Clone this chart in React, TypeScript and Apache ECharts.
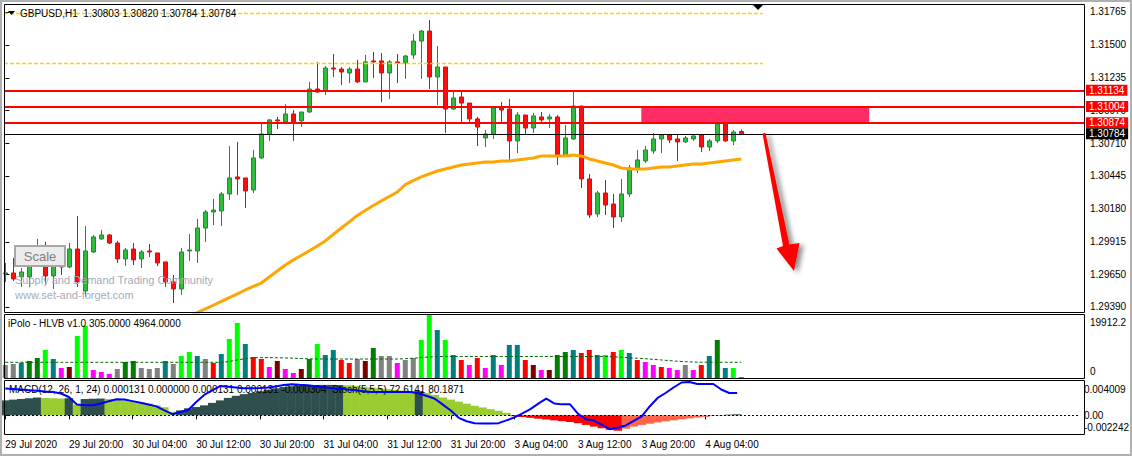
import React, { useEffect, useRef } from "react";
import * as echarts from "echarts";

const FONT = "'Liberation Sans', Arial, sans-serif";

// ---- time axis (bar index -> label) ----
const timeLabels = [
  "29 Jul 2020", "29 Jul 20:00", "30 Jul 04:00", "30 Jul 12:00", "30 Jul 20:00", "31 Jul 04:00",
  "31 Jul 12:00", "31 Jul 20:00", "3 Aug 04:00", "3 Aug 12:00", "3 Aug 20:00", "4 Aug 04:00",
];
const timeLabelBars = [0, 8, 16, 24, 32, 40, 48, 56, 64, 72, 80, 88];

// ---- GBPUSD H1 candles ----
const opens = [
  1.29656, 1.29664, 1.29632, 1.29632, 1.29793, 1.29753, 1.29640, 1.29728, 1.29712, 1.29857,
  1.29519, 1.29833, 1.29938, 1.29970, 1.29905, 1.29777, 1.29857, 1.29777, 1.29841, 1.29825,
  1.29753, 1.29592, 1.29535, 1.29841, 1.29841, 1.30026, 1.30155, 1.30163, 1.30300, 1.30437,
  1.30429, 1.30332, 1.30590, 1.30783, 1.30896, 1.30880, 1.30944, 1.30888, 1.30960, 1.31145,
  1.31129, 1.31314, 1.31306, 1.31274, 1.31306, 1.31202, 1.31371, 1.31371, 1.31274, 1.31363,
  1.31355, 1.31419, 1.31531, 1.31612, 1.31242, 1.31322, 1.30984, 1.31081, 1.31032, 1.30904,
  1.30751, 1.30783, 1.30992, 1.30984, 1.30727, 1.30936, 1.30831, 1.30920, 1.30904, 1.30920,
  1.30606, 1.30743, 1.31008, 1.30421, 1.30139, 1.30308, 1.30219, 1.30115, 1.30300, 1.30509,
  1.30566, 1.30646, 1.30743, 1.30775, 1.30743, 1.30719, 1.30743, 1.30775, 1.30678, 1.30727,
  1.30863, 1.30727, 1.30803,
];
const highs = [
  1.29744, 1.29785, 1.29704, 1.29785, 1.29938, 1.29914, 1.29793, 1.29809, 1.29905, 1.30123,
  1.30042, 1.29970, 1.30010, 1.29978, 1.29922, 1.29865, 1.29905, 1.29849, 1.29897, 1.29825,
  1.29753, 1.29648, 1.29865, 1.29978, 1.30099, 1.30171, 1.30260, 1.30316, 1.30686, 1.30719,
  1.30429, 1.30654, 1.30863, 1.30904, 1.30920, 1.31024, 1.30976, 1.30960, 1.31202, 1.31363,
  1.31330, 1.31427, 1.31322, 1.31322, 1.31379, 1.31419, 1.31443, 1.31435, 1.31379, 1.31427,
  1.31419, 1.31588, 1.31620, 1.31701, 1.31491, 1.31322, 1.31137, 1.31137, 1.31032, 1.30920,
  1.30815, 1.31000, 1.31040, 1.31065, 1.30960, 1.30936, 1.30952, 1.30960, 1.30944, 1.30936,
  1.30855, 1.31121, 1.31008, 1.30461, 1.30324, 1.30413, 1.30300, 1.30421, 1.30533, 1.30654,
  1.30686, 1.30791, 1.30783, 1.30783, 1.30783, 1.30767, 1.30783, 1.30783, 1.30743, 1.30872,
  1.30880, 1.30815, 1.30820,
];
const lows = [
  1.29592, 1.29600, 1.29551, 1.29551, 1.29753, 1.29567, 1.29535, 1.29648, 1.29704, 1.29551,
  1.29471, 1.29825, 1.29930, 1.29897, 1.29744, 1.29720, 1.29728, 1.29704, 1.29793, 1.29720,
  1.29551, 1.29422, 1.29487, 1.29761, 1.29744, 1.29914, 1.30050, 1.30042, 1.30252, 1.30292,
  1.30187, 1.30308, 1.30582, 1.30727, 1.30823, 1.30872, 1.30727, 1.30839, 1.30952, 1.31113,
  1.31097, 1.31242, 1.31177, 1.31193, 1.31193, 1.31202, 1.31234, 1.31040, 1.31065, 1.31193,
  1.31226, 1.31387, 1.31226, 1.31145, 1.31016, 1.30791, 1.30976, 1.30880, 1.30863, 1.30686,
  1.30678, 1.30743, 1.30872, 1.30574, 1.30630, 1.30775, 1.30791, 1.30880, 1.30831, 1.30533,
  1.30598, 1.30735, 1.30348, 1.30107, 1.30115, 1.30131, 1.30026, 1.30074, 1.30276, 1.30469,
  1.30549, 1.30622, 1.30630, 1.30710, 1.30566, 1.30710, 1.30727, 1.30638, 1.30646, 1.30710,
  1.30719, 1.30694, 1.30784,
];
const closes = [
  1.29664, 1.29616, 1.29672, 1.29728, 1.29881, 1.29640, 1.29728, 1.29712, 1.29857, 1.29592,
  1.29841, 1.29954, 1.29970, 1.29905, 1.29777, 1.29849, 1.29769, 1.29833, 1.29833, 1.29744,
  1.29592, 1.29535, 1.29833, 1.29849, 1.30026, 1.30155, 1.30171, 1.30300, 1.30429, 1.30421,
  1.30324, 1.30590, 1.30783, 1.30896, 1.30888, 1.30944, 1.30880, 1.30960, 1.31145, 1.31121,
  1.31314, 1.31306, 1.31282, 1.31306, 1.31202, 1.31363, 1.31363, 1.31274, 1.31363, 1.31355,
  1.31411, 1.31531, 1.31612, 1.31242, 1.31322, 1.30984, 1.31073, 1.31032, 1.30904, 1.30839,
  1.30783, 1.30992, 1.30976, 1.30727, 1.30936, 1.30831, 1.30928, 1.30896, 1.30920, 1.30606,
  1.30751, 1.31008, 1.30421, 1.30131, 1.30308, 1.30211, 1.30115, 1.30300, 1.30509, 1.30574,
  1.30654, 1.30743, 1.30775, 1.30735, 1.30719, 1.30751, 1.30767, 1.30678, 1.30727, 1.30863,
  1.30727, 1.30799, 1.30784,
];

// ---- moving average (starts at bar 22) ----
const maStartBar = 22;
const maValues = [
  1.29286, 1.29318, 1.29344, 1.29374, 1.29404, 1.29435, 1.29465, 1.29495, 1.29527, 1.29556,
  1.29583, 1.29632, 1.29680, 1.29728, 1.29769, 1.29805, 1.29843, 1.29881, 1.29922, 1.29974,
  1.30026, 1.30075, 1.30127, 1.30167, 1.30207, 1.30244, 1.30280, 1.30316, 1.30376, 1.30408,
  1.30437, 1.30461, 1.30485, 1.30501, 1.30517, 1.30533, 1.30541, 1.30549, 1.30558, 1.30558,
  1.30566, 1.30566, 1.30574, 1.30582, 1.30590, 1.30606, 1.30606, 1.30606, 1.30606, 1.30614,
  1.30606, 1.30582, 1.30566, 1.30549, 1.30533, 1.30509, 1.30501, 1.30501, 1.30501, 1.30509,
  1.30517, 1.30517, 1.30525, 1.30533, 1.30541, 1.30541, 1.30549, 1.30558, 1.30566, 1.30574,
  1.30582,
];

// ---- price axis / levels ----
const priceTicks = [1.31765, 1.315, 1.31235, 1.3097, 1.3071, 1.30445, 1.3018, 1.29915, 1.2965, 1.2939];
const priceAxisMin = 1.293497;
const priceAxisMax = 1.318294;
const resistanceLevels = [1.31134, 1.31004, 1.30874];
const bidPrice = 1.30784;
const dashedLevels = [1.31755, 1.31352];
const dashedLevelEndBar = 94.7;
const zoneTop = 1.31004;
const zoneBottom = 1.30874;
const zoneStartBar = 79.5;
const zoneEndBar = 108;

// ---- iPolo HLVB volume ----
const volumeMax = 19912.2;
const volumes = [
  4108, 4424, 4835, 5372, 6320, 8848, 6004, 3160, 3476, 13272,
  16527, 2528, 1896, 1264, 2844, 5056, 5372, 3160, 2844, 3160,
  5372, 4424, 6952, 8216, 6952, 6004, 4740, 7584, 12324, 17380,
  10744, 6636, 6004, 3476, 5372, 2844, 1580, 2844, 6004, 10744,
  7268, 8848, 5688, 4740, 6004, 5372, 9480, 6952, 6952, 4740,
  5688, 6320, 12008, 19912, 15168, 12008, 7268, 5688, 4108, 6320,
  3160, 7268, 4108, 10428, 10428, 5688, 4108, 2528, 2528, 7268,
  8216, 8848, 7900, 8848, 7268, 7268, 8216, 8848, 7900, 5688,
  5056, 4108, 3476, 3160, 2528, 4108, 2528, 4108, 6952, 12008,
  3160, 3160, 305,
];
const volumeColorNames = [
  "gray", "gray", "teal", "green", "green", "lime", "teal", "magenta", "maroon", "lime",
  "lime", "magenta", "magenta", "magenta", "gray", "green", "green", "gray", "gray", "gray",
  "teal", "gray", "lime", "lime", "teal", "gray", "red", "teal", "lime", "lime",
  "teal", "red", "red", "magenta", "maroon", "magenta", "magenta", "maroon", "green", "lime",
  "teal", "teal", "red", "red", "gray", "maroon", "green", "gray", "gray", "magenta",
  "gray", "gray", "lime", "lime", "teal", "lime", "teal", "red", "magenta", "red",
  "magenta", "teal", "magenta", "teal", "teal", "red", "maroon", "magenta", "maroon", "green",
  "green", "teal", "red", "red", "teal", "lime", "red", "lime", "teal", "red",
  "magenta", "magenta", "red", "magenta", "magenta", "gray", "magenta", "red", "teal", "green",
  "teal", "lime", "magenta",
];
const volumeAverage = [
  4960, 4960, 4960, 4960, 4960, 4960, 4960, 4960, 4960, 4960,
  4960, 4960, 4960, 4960, 4960, 4960, 4960, 4960, 4960, 4960,
  4960, 4960, 4960, 4960, 4960, 4960, 4960, 4960, 5200, 5700,
  6100, 6350, 6450, 6450, 6400, 6350, 6250, 6150, 6050, 6000,
  6000, 6000, 6000, 6000, 6000, 6000, 6000, 6000, 6000, 6000,
  6100, 6250, 6450, 6650, 6750, 6800, 6800, 6800, 6800, 6800,
  6800, 6800, 6800, 6800, 6800, 6800, 6800, 6800, 6800, 6800,
  6800, 6800, 6800, 6800, 6800, 6800, 6700, 6550, 6400, 6250,
  6100, 5900, 5700, 5500, 5300, 5150, 5050, 5000, 4980, 4970,
  4965, 4964, 4964,
];

// ---- MACD(12,26,1,24) ----
const macdMax = 0.004009;
const macdMin = -0.002242;
const macdHist = [
  0.00180, 0.00189, 0.00197, 0.00206, 0.00215, 0.00210, 0.00206, 0.00203, 0.00206, 0.00129,
  0.00196, 0.00200, 0.00202, 0.00196, 0.00190, 0.00180, 0.00172, 0.00158, 0.00140, 0.00120,
  0.00098, 0.00043, 0.00060, 0.00085, 0.00100, 0.00120, 0.00150, 0.00180, 0.00210, 0.00235,
  0.00255, 0.00270, 0.00290, 0.00310, 0.00325, 0.00340, 0.00350, 0.00358, 0.00362, 0.00365,
  0.00366, 0.00366, 0.00364, 0.00362, 0.00355, 0.00345, 0.00335, 0.00325, 0.00315, 0.00305,
  0.00298, 0.00290, 0.00292, 0.00270, 0.00245, 0.00215, 0.00190, 0.00165, 0.00140, 0.00115,
  0.00095, 0.00075, 0.00055, 0.00030, -0.00010, -0.00020, -0.00030, -0.00040, -0.00050, -0.00060,
  -0.00070, -0.00080, -0.00095, -0.00115, -0.00135, -0.00155, -0.00175, -0.00185, -0.00160, -0.00135,
  -0.00115, -0.00100, -0.00085, -0.00072, -0.00060, -0.00048, -0.00037, -0.00027, -0.00018, -0.00008,
  0.00004, 0.00009, 0.00013,
];
const macdHistColorCodes =
  "DDDDDYYYDYDDDYYYYYYYYYDDDDDDDDDDDDDDDDDDDDDYYYYYYYYYDYYYYYYYYYYYRRRRRRRRRRRRRRTTTTTTTTTTTTDDD".split("");
const macdSignal = [
  0.00323, 0.00317, 0.00310, 0.00303, 0.00296, 0.00287, 0.00280, 0.00263, 0.00221, 0.00131,
  0.00121, 0.00121, 0.00143, 0.00169, 0.00194, 0.00191, 0.00171, 0.00151, 0.00130, 0.00108,
  0.00059, 0.00014, 0.00041, 0.00065, 0.00161, 0.00245, 0.00299, 0.00352, 0.00344, 0.00335,
  0.00326, 0.00325, 0.00329, 0.00334, 0.00347, 0.00365, 0.00374, 0.00368, 0.00363, 0.00350,
  0.00337, 0.00326, 0.00320, 0.00310, 0.00301, 0.00291, 0.00281, 0.00280, 0.00280, 0.00280,
  0.00280, 0.00280, 0.00263, 0.00233, 0.00200, 0.00129, 0.00058, -0.00030, -0.00071, -0.00095,
  -0.00097, -0.00097, -0.00094, -0.00061, -0.00025, 0.00023, 0.00075, 0.00141, 0.00201, 0.00143,
  0.00132, 0.00132, 0.00017, -0.00048, -0.00063, -0.00115, -0.00167, -0.00145, -0.00121, -0.00067,
  -0.00013, 0.00107, 0.00209, 0.00269, 0.00335, 0.00395, 0.00401, 0.00377, 0.00377, 0.00377,
  0.00311, 0.00269, 0.00269,
];

const headerText = "GBPUSD,H1  1.30803 1.30820 1.30784 1.30784";
const volumeTitle = "iPolo - HLVB v1.0 305.0000 4964.0000";
const macdTitle = "MACD(12, 26, 1, 24) 0.000131 0.000000 0.000131 0.000131 -0.000304  Stoch(5,5,5) 72.6141 80.1871";

const VOL_COLORS: Record<string, string> = {
  gray: "#808080", teal: "#008080", green: "#008000", lime: "#00ff00",
  magenta: "#ff00ff", maroon: "#800000", red: "#ff0000",
};
const MACD_COLORS: Record<string, string> = {
  D: "#2f4f4f", Y: "#9acd32", R: "#ff0000", T: "#ff6347",
};

const X_MIN = -0.1625;
const X_MAX = 134.8375;
const FS = 10;

function levelLine(value: number, color: string, width: number, showTag: boolean, endBar: number, dash: any) {
  const ls = { color, width, type: dash, opacity: 1 };
  const lbl = showTag
    ? {
        show: true, position: "end", distance: 2, formatter: value.toFixed(5),
        backgroundColor: color, color: "#ffffff", padding: [1, 3, 0, 3],
        fontSize: FS, fontFamily: FONT, lineHeight: 10,
      }
    : { show: false };
  return [
    { coord: [X_MIN, value], lineStyle: ls, label: lbl },
    { coord: [endBar, value], lineStyle: ls, label: lbl },
  ];
}

function buildOption() {
  const hiddenX = (gridIndex: number) => ({
    gridIndex, type: "value", min: X_MIN, max: X_MAX, show: false,
    splitLine: { show: false },
  });

  const markLines = [
    ...dashedLevels.map((lvl) => levelLine(lvl, "#ffd200", 1.3, false, dashedLevelEndBar, [4, 2])),
    ...resistanceLevels.map((lvl) => levelLine(lvl, "#ff0000", 2, true, X_MAX, "solid")),
    levelLine(bidPrice, "#000000", 1, true, X_MAX, "solid"),
  ];

  return {
    animation: false,
    backgroundColor: "#ffffff",
    textStyle: { fontFamily: FONT },
    grid: [
      { left: 4, top: 4, width: 1080, height: 308 },
      { left: 4, top: 315, width: 1080, height: 63 },
      { left: 4, top: 382, width: 1080, height: 52 },
    ],
    xAxis: [
      hiddenX(0),
      hiddenX(1),
      {
        gridIndex: 2, type: "value", min: X_MIN, max: X_MAX,
        axisLine: { show: false },
        splitLine: { show: false },
        axisTick: { show: true, customValues: timeLabelBars, length: 4, lineStyle: { color: "#000" } },
        axisLabel: {
          show: true, customValues: timeLabelBars, align: "left", margin: 5,
          fontSize: FS, color: "#000", fontFamily: FONT,
          formatter: (v: number) => {
            const i = timeLabelBars.indexOf(Math.round(v));
            return i >= 0 ? timeLabels[i] : "";
          },
        },
      },
    ],
    yAxis: [
      {
        gridIndex: 0, type: "value", position: "right", min: priceAxisMin, max: priceAxisMax,
        axisLine: { show: false }, splitLine: { show: false },
        axisTick: { show: true, customValues: priceTicks, length: 4, lineStyle: { color: "#000" } },
        axisLabel: {
          customValues: priceTicks, margin: 6, fontSize: FS, color: "#000", fontFamily: FONT,
          formatter: (v: number) => v.toFixed(5),
        },
      },
      {
        gridIndex: 1, type: "value", position: "right", min: 0, max: volumeMax,
        axisLine: { show: false }, splitLine: { show: false },
        axisTick: { show: false },
        axisLabel: {
          customValues: [0, volumeMax], margin: 6, fontSize: FS, color: "#000", fontFamily: FONT,
          formatter: (v: number) => (v > 1 ? "{t|" + v.toFixed(1) + "}" : "{b|0}"),
          rich: {
            t: { padding: [15, 0, 0, 0], fontSize: FS, fontFamily: FONT, color: "#000" },
            b: { padding: [0, 0, 13, 0], fontSize: FS, fontFamily: FONT, color: "#000" },
          },
        },
      },
      {
        gridIndex: 2, type: "value", position: "right", min: macdMin, max: macdMax,
        axisLine: { show: false }, splitLine: { show: false },
        axisTick: { show: true, customValues: [0], length: 4, lineStyle: { color: "#000" } },
        axisLabel: {
          customValues: [macdMin, 0, macdMax], margin: 6, fontSize: FS, color: "#000", fontFamily: FONT,
          formatter: (v: number) =>
            v > 0.0001 ? "{t|" + v.toFixed(6) + "}" : v < -0.0001 ? "{b|" + v.toFixed(6) + "}" : "0.00",
          rich: {
            t: { padding: [14, 0, 0, 0], fontSize: FS, fontFamily: FONT, color: "#000" },
            b: { padding: [0, 0, 14, 0], fontSize: FS, fontFamily: FONT, color: "#000" },
          },
        },
      },
    ],
    series: [
      {
        type: "candlestick", name: "GBPUSD", xAxisIndex: 0, yAxisIndex: 0, z: 3,
        dimensions: ["bar", "open", "close", "low", "high"],
        encode: { x: "bar", y: ["open", "close", "low", "high"] },
        data: opens.map((o, k) => [k, o, closes[k], lows[k], highs[k]]),
        barWidth: 5,
        itemStyle: {
          color: "#2ebd3a", color0: "#ff0d0d",
          borderColor: "#1f8a3a", borderColor0: "#d01010", borderWidth: 1,
        },
        markArea: {
          silent: true,
          itemStyle: { color: "#ff2d64", opacity: 1 },
          data: [[{ coord: [zoneStartBar, zoneTop] }, { coord: [zoneEndBar, zoneBottom] }]],
        },
        markLine: {
          silent: true, symbol: "none", animation: false,
          data: markLines,
        },
      },
      {
        type: "line", name: "MA", xAxisIndex: 0, yAxisIndex: 0, z: 4,
        data: maValues.map((v, i) => [maStartBar + i, v]),
        showSymbol: false, symbol: "none",
        lineStyle: { color: "#ffa500", width: 3 },
      },
      {
        type: "bar", name: "HLVB", xAxisIndex: 1, yAxisIndex: 1, barWidth: 5,
        data: volumes.map((v, k) => ({ value: [k, v], itemStyle: { color: VOL_COLORS[volumeColorNames[k]] } })),
      },
      {
        type: "line", name: "HLVB avg", xAxisIndex: 1, yAxisIndex: 1, z: 4,
        data: volumeAverage.map((v, k) => [k, v]),
        showSymbol: false, symbol: "none",
        lineStyle: { color: "#006400", width: 1, type: [3, 2] },
      },
      {
        type: "bar", name: "MACD", xAxisIndex: 2, yAxisIndex: 2, barWidth: 8.4, z: 2,
        data: macdHist.map((v, k) => ({ value: [k, v], itemStyle: { color: MACD_COLORS[macdHistColorCodes[k]] } })),
        markLine: {
          silent: true, symbol: "none",
          data: [[
            { coord: [X_MIN, 0], lineStyle: { color: "#000", width: 1, type: [2, 2] }, label: { show: false } },
            { coord: [X_MAX, 0], lineStyle: { color: "#000", width: 1, type: [2, 2] }, label: { show: false } },
          ]],
        },
      },
      {
        type: "line", name: "Signal", xAxisIndex: 2, yAxisIndex: 2, z: 10,
        data: macdSignal.map((v, k) => [k, v]),
        showSymbol: false, symbol: "none",
        lineStyle: { color: "#0000ff", width: 2 },
      },
    ],
    graphic: [
      { type: "rect", silent: true, z: 100, shape: { x: 1, y: 1, width: 1130, height: 454 }, style: { fill: "none", stroke: "#b0b0b0", lineWidth: 2 } },
      { type: "rect", silent: true, z: 100, shape: { x: 4.5, y: 4.5, width: 1080, height: 308 }, style: { fill: "none", stroke: "#000", lineWidth: 1 } },
      { type: "rect", silent: true, z: 100, shape: { x: 4.5, y: 314.5, width: 1080, height: 64 }, style: { fill: "none", stroke: "#000", lineWidth: 1 } },
      { type: "rect", silent: true, z: 100, shape: { x: 4.5, y: 380.5, width: 1080, height: 54 }, style: { fill: "none", stroke: "#000", lineWidth: 1 } },
      { type: "polygon", silent: true, z: 50, shape: { points: [[8, 11], [15, 11], [11.5, 15]] }, style: { fill: "#000" } },
      { type: "text", silent: true, z: 50, style: { x: 20, y: 13, text: headerText, fontSize: FS, fontFamily: FONT, fill: "#000", verticalAlign: "middle" } },
      { type: "polygon", silent: true, z: 50, shape: { points: [[753, 5], [763, 5], [758, 10]] }, style: { fill: "#000" } },
      { type: "text", silent: true, z: 40, style: { x: 15, y: 280, text: "Supply and Demand Trading Community", fontSize: 11, fontFamily: FONT, fill: "#a4abba", verticalAlign: "middle" } },
      { type: "text", silent: true, z: 40, style: { x: 15, y: 295, text: "www.set-and-forget.com", fontSize: 11, fontFamily: FONT, fill: "#a4abba", verticalAlign: "middle" } },
      { type: "rect", silent: true, z: 60, shape: { x: 15, y: 246, width: 50, height: 20 }, style: { fill: "#ececec", stroke: "#a8a8a8", lineWidth: 2 } },
      { type: "text", silent: true, z: 61, style: { x: 40, y: 256, text: "Scale", fontSize: 13, fontFamily: FONT, fill: "#808080", align: "center", verticalAlign: "middle" } },
      {
        type: "polygon", silent: true, z: 70,
        shape: { points: [[762.5, 133.5], [765.5, 133], [789.5, 244.5], [799.5, 243], [794, 271], [776.5, 248.5], [783, 246]] },
        style: { fill: "#ff0000", shadowBlur: 5, shadowColor: "rgba(0,0,0,0.45)", shadowOffsetX: 4, shadowOffsetY: 2 },
      },
      { type: "text", silent: true, z: 5, style: { x: 8, y: 323, text: volumeTitle, fontSize: FS, fontFamily: FONT, fill: "#000", verticalAlign: "middle" } },
      { type: "text", silent: true, z: 5, style: { x: 9, y: 389, text: macdTitle, fontSize: FS, fontFamily: FONT, fill: "#000", verticalAlign: "middle" } },
    ],
  };
}

export default function App() {
  const ref = useRef<HTMLDivElement>(null);
  useEffect(() => {
    if (!ref.current) return;
    const chart = echarts.init(ref.current, undefined, { renderer: "svg", width: 1132, height: 456 });
    chart.setOption(buildOption() as any);
    return () => chart.dispose();
  }, []);
  return (
    <div
      ref={ref}
      style={{ position: "absolute", left: 0, top: 0, width: 1132, height: 456, background: "#fff" }}
    />
  );
}
